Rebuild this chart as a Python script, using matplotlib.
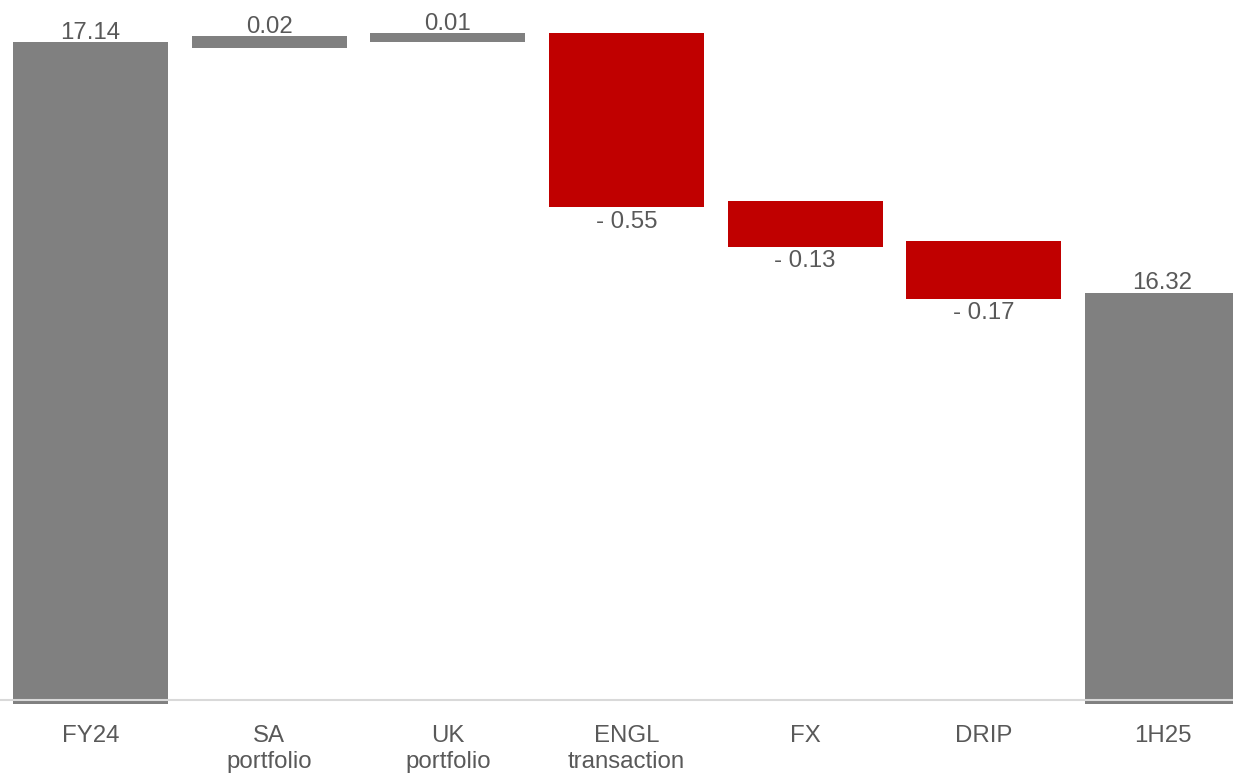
import matplotlib
matplotlib.use("Agg")
import matplotlib.pyplot as plt

# Waterfall: NAV per share bridge
categories = ["FY24", "SA\nportfolio", "UK\nportfolio", "ENGL\ntransaction", "FX", "DRIP", "1H25"]
values = [17.14, 0.02, 0.01, -0.55, -0.13, -0.17, 16.32]
is_total = [True, False, False, False, False, False, True]

GREY = "#808080"
RED = "#C00000"
TEXT = "#595959"
AXIS = "#D9D9D9"

plt.rcParams["font.family"] = ["Liberation Sans", "DejaVu Sans"]

DPI = 100
W, H = 1233, 774
fig = plt.figure(figsize=(W / DPI, H / DPI), dpi=DPI)

# axes fills the width; bottom edge sits just below the category axis line
ax_bottom_px = 703.5
ax = fig.add_axes([0, (H - ax_bottom_px) / H, 1, ax_bottom_px / H])

px_per_unit = 305.0
y_at_top = 17.289
ax.set_ylim(y_at_top - ax_bottom_px / px_per_unit, y_at_top)
slot = 178.67
ax.set_xlim(-90.5 / slot, (W - 90.5) / slot)

edge_px = 6
edge_pt = edge_px * 72 / DPI
bar_w = 149 / slot

running = 0.0
bottoms, heights, colors = [], [], []
for v, tot in zip(values, is_total):
    if tot:
        bottoms.append(0.0)
        heights.append(v)
        colors.append(GREY)
        running = v
    else:
        bottoms.append(running if v >= 0 else running + v)
        heights.append(abs(v))
        colors.append(GREY if v >= 0 else RED)
        running += v

x = list(range(len(categories)))
ax.bar(x, heights, bottom=bottoms, width=bar_w, color=colors,
       edgecolor=colors, linewidth=edge_pt, joinstyle="miter")

fs = 17.3
for xi, v, b, h, tot in zip(x, values, bottoms, heights, is_total):
    if tot or v >= 0:
        ax.annotate(f"{v:.2f}", (xi, b + h), xytext=(0, 6.5 * 72 / DPI),
                    textcoords="offset points", ha="center", va="baseline",
                    fontsize=fs, color=TEXT)
    else:
        ax.annotate(f"- {abs(v):.2f}", (xi, b), xytext=(0, -23.7 * 72 / DPI),
                    textcoords="offset points", ha="center", va="baseline",
                    fontsize=fs, color=TEXT)

# category axis line
for side in ["top", "right", "left"]:
    ax.spines[side].set_visible(False)
ax.spines["bottom"].set_position(("data", 14.993))
ax.spines["bottom"].set_color(AXIS)
ax.spines["bottom"].set_linewidth(1.5)
ax.set_yticks([])
ax.set_xticks(x)
ax.set_xticklabels(categories, fontsize=fs, color=TEXT, linespacing=1.27)
ax.tick_params(axis="x", length=0, pad=17.5)

fig.savefig("out.png", dpi=DPI)
